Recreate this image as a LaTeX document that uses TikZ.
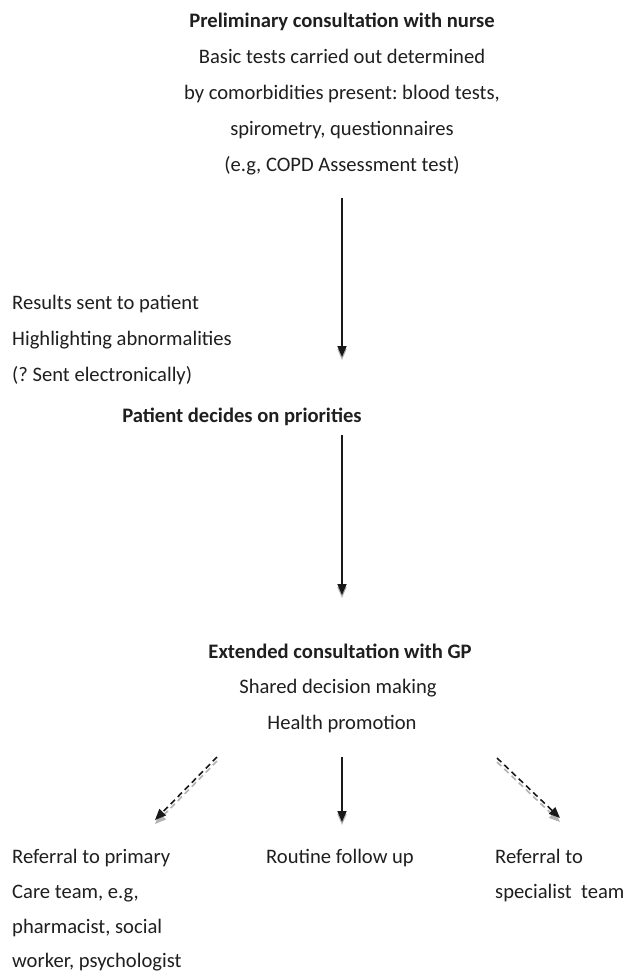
\documentclass[tikz,border=0pt]{standalone}
\usepackage{fontspec}
\setmainfont{Carlito}
\usetikzlibrary{arrows.meta}
\frenchspacing
\begin{document}
\begin{tikzpicture}[x=1pt,y=-1pt,
  txt/.style={inner sep=0pt, font=\fontsize{20.6}{24}\selectfont, text=black!88},
  btxt/.style={txt, font=\fontsize{20.6}{24}\selectfont\bfseries},
  cl/.style={txt, anchor=base},
  bl/.style={btxt, anchor=base},
  ll/.style={txt, anchor=base west},
  tip/.style={-{Triangle[length=11pt,width=9pt]}},
  mainarr/.style={draw=black!90, line width=1.6pt, tip},
  shadarr/.style={draw=black!30, line width=1.6pt, tip},
  dashmain/.style={mainarr, dash pattern=on 6pt off 4pt},
  dashshad/.style={shadarr, dash pattern=on 6pt off 4pt}]
\useasboundingbox (0,0) rectangle (624,973);
\fill[white] (0,0) rectangle (624,973);

% top block
\node[bl] (t1) at (342,28) {Preliminary consultation with nurse};
\node[cl] (t2) at (342,64) {Basic tests carried out determined};
\node[cl] (t3) at (342,100) {by comorbidities present: blood tests,};
\node[cl] (t4) at (342,136) {spirometry, questionnaires};
\node[cl] (t5) at (342,172) {(e.g, COPD Assessment test)};

% left results
\node[ll] (r1) at (12,309) {Results sent to patient};
\node[ll] (r2) at (12,345) {Highlighting abnormalities};
\node[ll] (r3) at (12,381) {(? Sent electronically)};

\node[bl] (p1) at (242,422) {Patient decides on priorities};

% GP block
\node[bl] (g1) at (340,658) {Extended consultation with GP};
\node[cl] (g2) at (338,693) {Shared decision making};
\node[cl] (g3) at (342,729) {Health promotion};

% bottom
\node[ll] (b1) at (12,863) {Referral to primary};
\node[ll] (b2) at (12,898) {Care team, e.g,};
\node[ll] (b3) at (12,933) {pharmacist, social};
\node[ll] (b4) at (12,967) {worker, psychologist};
\node[ll] (m1) at (266,863) {Routine follow up};
\node[ll] (s1) at (495,863) {Referral to};
\node[ll] (s2) at (495,898) {specialist\ \ team};

% arrow coordinates
\coordinate (a1s) at (342,198);
\coordinate (a1e) at (342,357);
\coordinate (a2s) at (342,435);
\coordinate (a2e) at (342,595);
\coordinate (a3s) at (342,757);
\coordinate (a3e) at (342,822);
\coordinate (dls) at (217,757);
\coordinate (dle) at (155,820);
\coordinate (drs) at (497,758);
\coordinate (dre) at (560,818);

% shadows
\draw[shadarr] ([yshift=-3pt]a1s) -- ([yshift=-3pt]a1e);
\draw[shadarr] ([yshift=-3pt]a2s) -- ([yshift=-3pt]a2e);
\draw[shadarr] ([yshift=-3pt]a3s) -- ([yshift=-3pt]a3e);
\draw[dashshad] ([yshift=-4pt]dls) -- ([yshift=-4pt]dle);
\draw[dashshad] ([yshift=-4pt]drs) -- ([yshift=-4pt]dre);
% arrows
\draw[mainarr] (a1s) -- (a1e);
\draw[mainarr] (a2s) -- (a2e);
\draw[mainarr] (a3s) -- (a3e);
\draw[dashmain] (dls) -- (dle);
\draw[dashmain] (drs) -- (dre);
\end{tikzpicture}
\end{document}
